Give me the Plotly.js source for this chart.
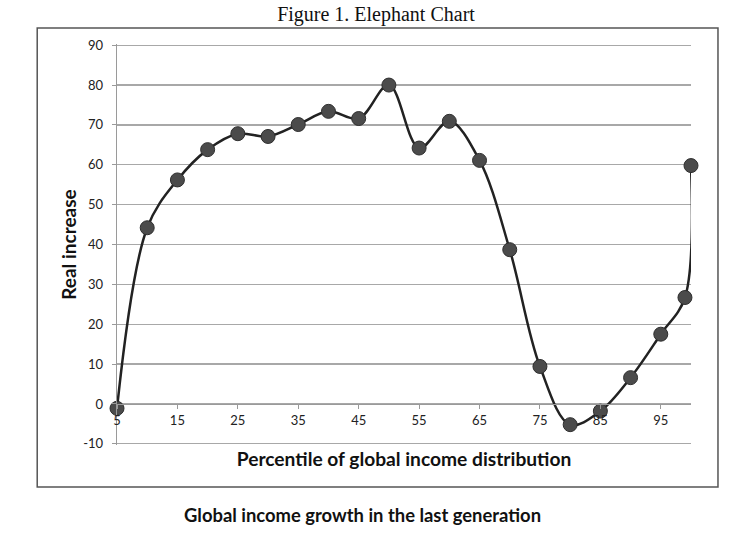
<!DOCTYPE html>
<html>
<head>
<meta charset="utf-8">
<script src="https://cdn.plot.ly/plotly-3.0.1.min.js"></script>
<style>html,body{margin:0;padding:0;background:#fff;}#chart{width:752px;height:534px;}</style>
</head>
<body>
<div id="chart"></div>
<script>
// Data
const percentiles = [5, 10, 15, 20, 25, 30, 35, 40, 45, 50, 55, 60, 65, 70, 75, 80, 85, 90, 95, 99, 100];
const realIncrease = [-1.1, 44.2, 56.2, 63.8, 67.8, 67.1, 70.1, 73.4, 71.6, 80.0, 64.2, 70.9, 61.1, 38.7, 9.4, -5.2, -1.8, 6.6, 17.5, 26.7, 59.8];
const xTicks = [5, 15, 25, 35, 45, 55, 65, 75, 85, 95];
const yTicks = [-10, 0, 10, 20, 30, 40, 50, 60, 70, 80, 90];

const chartTitle = 'Figure 1. Elephant Chart';
const xTitle = 'Percentile of global income distribution';
const yTitle = 'Real increase';
const caption = 'Global income growth in the last generation';

const sans = 'Lato, "Open Sans", sans-serif';

const trace = {
  x: percentiles,
  y: realIncrease,
  type: 'scatter',
  mode: 'lines+markers',
  line: {shape: 'spline', smoothing: 1, color: '#222222', width: 2.5},
  marker: {size: 14, color: '#4b4b4b', line: {color: '#2e2e2e', width: 1}},
  hoverinfo: 'skip',
  cliponaxis: false
};

const layout = {
  width: 752,
  height: 534,
  margin: {l: 117, r: 61, t: 44, b: 89},
  paper_bgcolor: '#ffffff',
  plot_bgcolor: '#ffffff',
  showlegend: false,
  title: {
    text: chartTitle,
    font: {family: '"Liberation Serif", "Times New Roman", serif', size: 20, color: '#111'},
    xref: 'container', x: 0.5, xanchor: 'center',
    yref: 'container', y: 0.973, yanchor: 'middle'
  },
  xaxis: {
    range: [5, 100],
    tickmode: 'array',
    tickvals: xTicks,
    ticktext: xTicks.map(String),
    showgrid: false,
    zeroline: false,
    showline: true,
    linecolor: '#9a9a9a',
    linewidth: 1.3,
    ticks: 'outside',
    ticklen: 4,
    tickcolor: '#9a9a9a',
    tickfont: {family: sans, size: 13, color: '#222'},
    anchor: 'free',
    position: 0.1024,
    title: {text: xTitle, font: {family: sans, size: 19.2, color: '#111', weight: 'bold'}, standoff: 25},
    automargin: false
  },
  yaxis: {
    range: [-10.3, 90.3],
    tickmode: 'array',
    tickvals: yTicks,
    ticktext: yTicks.map(String),
    showgrid: true,
    gridcolor: '#a8a8a8',
    gridwidth: 1.3,
    zeroline: false,
    showline: true,
    linecolor: '#9a9a9a',
    linewidth: 1.3,
    ticks: 'outside',
    ticklen: 4,
    tickcolor: '#9a9a9a',
    ticklabelstandoff: 6,
    tickfont: {family: sans, size: 13, color: '#222'},
    title: {text: yTitle, font: {family: sans, size: 19, color: '#111', weight: 'bold'}, standoff: 1},
    automargin: false
  },
  shapes: [{
    type: 'rect', xref: 'paper', yref: 'paper',
    x0: -0.139, x1: 1.047, y0: -0.1047, y1: 1.04,
    line: {color: '#555555', width: 1.5},
    fillcolor: 'rgba(0,0,0,0)',
    layer: 'below'
  }],
  annotations: [{
    text: caption,
    xref: 'paper', yref: 'paper',
    x: 0.427, y: -0.1746,
    xanchor: 'center', yanchor: 'middle',
    showarrow: false,
    font: {family: sans, size: 18.4, color: '#111', weight: 'bold'}
  }]
};

Plotly.newPlot('chart', [trace], layout, {staticPlot: true, displayModeBar: false});
</script>
</body>
</html>
